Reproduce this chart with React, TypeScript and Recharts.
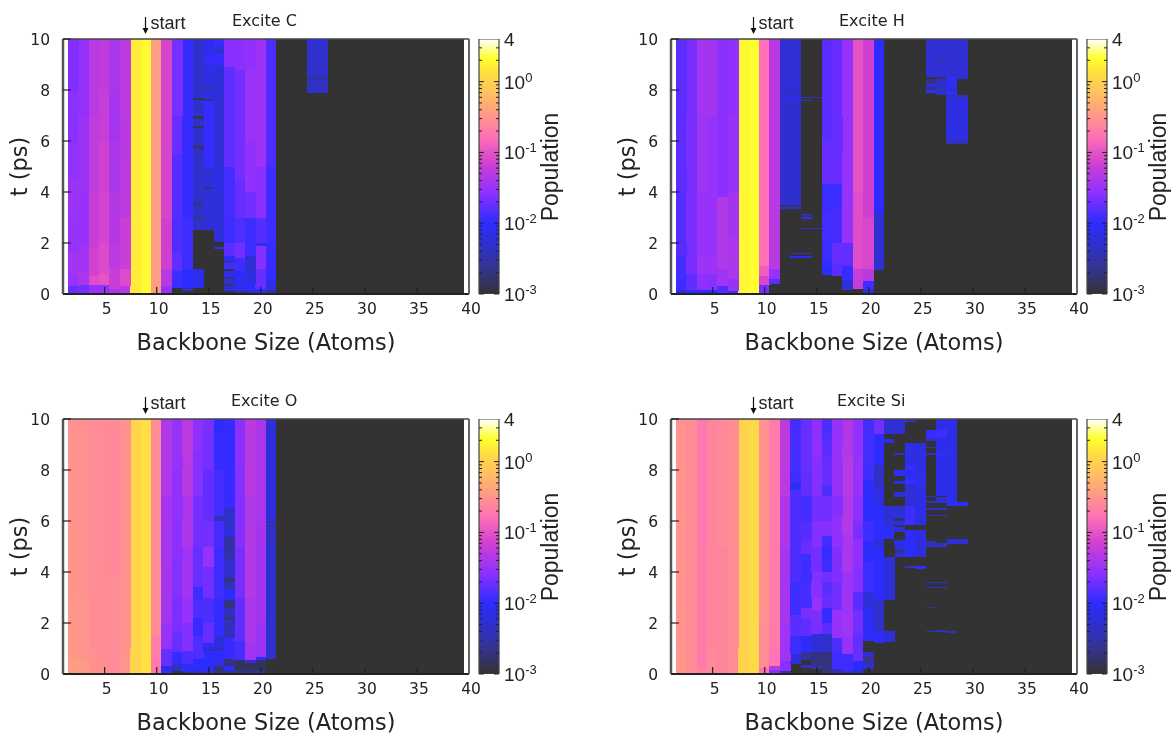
import { Bar, Cell, ComposedChart, XAxis, YAxis } from "recharts";

type Segment = [number, number]; // [upper t in ps, population]
type Column = [number, Segment[]];

const atoms = [2, 3, 4, 5, 6, 7, 8, 9, 10, 11, 12, 13, 14, 15, 16, 17, 18, 19, 20, 21, 22, 23, 24, 25, 26, 27, 28, 29, 30, 31, 32, 33, 34, 35, 36, 37, 38, 39];
const xTicks = [5, 10, 15, 20, 25, 30, 35, 40];
const yTicks = [0, 2, 4, 6, 8, 10];
const floorPop = 0.001;

const exciteC: Column[] = [
  [2, [[0.3, 0.018], [0.8, 0.03], [1.6, 0.036], [3, 0.03], [4.5, 0.032], [6, 0.028], [8, 0.026], [10, 0.023]]],
  [3, [[0.35, 0.02], [0.9, 0.04], [2, 0.034], [4, 0.03], [7, 0.032], [10, 0.029]]],
  [4, [[0.35, 0.03], [0.7, 0.09], [1.8, 0.072], [4, 0.062], [7, 0.055], [10, 0.05]]],
  [5, [[0.35, 0.03], [0.8, 0.1], [2, 0.085], [4, 0.075], [6, 0.07], [8, 0.06], [10, 0.055]]],
  [6, [[0.2, 0.04], [1, 0.062], [2, 0.052], [4, 0.046], [6, 0.04], [8, 0.037], [10, 0.04]]],
  [7, [[0.3, 0.05], [1, 0.085], [3, 0.062], [5, 0.052], [7, 0.05], [10, 0.052]]],
  [8, [[10, 1.6]]],
  [9, [[10, 2.0]]],
  [10, [[10, 0.36]]],
  [11, [[0.3, 0.03], [1, 0.05], [3, 0.07], [10, 0.078]]],
  [12, [[0.25, 0.001], [0.9, 0.012], [1.6, 0.017], [3, 0.014], [5.5, 0.015], [7, 0.018], [10, 0.021]]],
  [13, [[0.1, 0.001], [0.18, 0.006], [0.25, 0.002], [1, 0.01], [3, 0.012], [10, 0.011]]],
  [14, [[0.25, 0.001], [1, 0.008], [2.5, 0.001], [2.9, 0.005], [3.1, 0.003], [3.4, 0.005], [3.6, 0.003], [3.9, 0.005], [5.7, 0.005], [5.85, 0.002], [6.5, 0.005], [6.6, 0.0015], [6.85, 0.005], [7, 0.0015], [7.6, 0.005], [7.7, 0.0015], [10, 0.005]]],
  [15, [[2.5, 0.001], [4.1, 0.006], [4.2, 0.002], [5, 0.006], [7.55, 0.011], [7.65, 0.002], [8, 0.007], [8.2, 0.004], [9, 0.007], [9.3, 0.011], [10, 0.008]]],
  [16, [[1.78, 0.001], [1.83, 0.01], [2.05, 0.001], [4, 0.006], [5, 0.007], [9, 0.006], [9.4, 0.011], [9.7, 0.006], [10, 0.011]]],
  [17, [[0.1, 0.001], [0.3, 0.006], [0.38, 0.002], [0.6, 0.005], [0.68, 0.002], [0.9, 0.007], [0.98, 0.0015], [1.2, 0.012], [1.35, 0.004], [1.5, 0.009], [2, 0.016], [3, 0.012], [5, 0.013], [8.9, 0.017], [10, 0.025]]],
  [18, [[0.12, 0.002], [0.5, 0.008], [0.9, 0.01], [1.4, 0.012], [2, 0.02], [3, 0.014], [4.5, 0.018], [8.8, 0.02], [10, 0.026]]],
  [19, [[0.1, 0.003], [0.4, 0.01], [0.9, 0.007], [1.5, 0.006], [2, 0.012], [3, 0.012], [4, 0.02], [6, 0.028], [8.8, 0.032], [10, 0.028]]],
  [20, [[0.2, 0.008], [1, 0.018], [1.9, 0.024], [2, 0.007], [3, 0.015], [5, 0.026], [10, 0.033]]],
  [21, [[0.12, 0.002], [0.5, 0.007], [2, 0.011], [5, 0.012], [10, 0.014]]],
  [25, [[7.9, floorPop], [8.15, 0.005], [8.25, 0.003], [8.4, 0.005], [8.5, 0.003], [9.85, 0.005], [10, 0.008]]],
  [26, [[7.9, floorPop], [8.15, 0.005], [8.25, 0.003], [8.4, 0.005], [8.5, 0.003], [9.85, 0.005], [10, 0.008]]],
];

const exciteH: Column[] = [
  [2, [[0.15, 0.008], [0.6, 0.012], [1.5, 0.013], [4, 0.015], [7, 0.016], [10, 0.016]]],
  [3, [[0.15, 0.009], [0.8, 0.017], [2, 0.021], [5, 0.022], [10, 0.022]]],
  [4, [[0.15, 0.01], [0.8, 0.027], [1.5, 0.033], [4, 0.03], [7, 0.034], [10, 0.036]]],
  [5, [[0.15, 0.01], [0.8, 0.025], [1.4, 0.033], [4, 0.03], [7, 0.03], [10, 0.036]]],
  [6, [[0.05, 0.001], [0.3, 0.014], [1, 0.034], [2.2, 0.043], [3.8, 0.045], [6, 0.026], [10, 0.026]]],
  [7, [[0.1, 0.012], [0.6, 0.03], [2.2, 0.04], [4, 0.036], [7, 0.03], [10, 0.028]]],
  [8, [[10, 1.9]]],
  [9, [[10, 2.1]]],
  [10, [[0.35, 0.02], [0.7, 0.08], [1.1, 0.12], [10, 0.165]]],
  [11, [[0.4, 0.001], [0.6, 0.016], [1, 0.03], [3, 0.05], [10, 0.05]]],
  [12, [[3.35, 0.001], [3.42, 0.005], [3.48, 0.0015], [3.55, 0.005], [7.6, 0.0052], [7.72, 0.008], [8.2, 0.0052], [8.27, 0.008], [10, 0.0055]]],
  [13, [[1.4, 0.001], [1.48, 0.008], [1.55, 0.001], [1.62, 0.007], [2.95, 0.001], [3.35, 0.001], [3.42, 0.005], [3.48, 0.0015], [3.55, 0.005], [7.6, 0.0052], [7.72, 0.008], [8.2, 0.0052], [8.27, 0.008], [10, 0.0055]]],
  [14, [[1.4, 0.001], [1.48, 0.007], [1.55, 0.001], [1.62, 0.006], [2.55, 0.001], [2.6, 0.006], [2.95, 0.001], [3.02, 0.007], [3.08, 0.0015], [3.15, 0.007], [7.55, 0.001], [7.62, 0.005], [7.68, 0.001], [7.74, 0.006], [10, 0.001]]],
  [15, [[2.55, 0.001], [2.6, 0.006], [7.68, 0.001], [7.74, 0.006], [10, 0.001]]],
  [16, [[0.75, 0.001], [1.1, 0.01], [1.4, 0.011], [2.2, 0.012], [3.2, 0.013], [4.3, 0.012], [6, 0.018], [10, 0.016]]],
  [17, [[0.7, 0.001], [1.2, 0.016], [2, 0.018], [3.4, 0.013], [4.3, 0.012], [5.5, 0.018], [10, 0.018]]],
  [18, [[0.15, 0.001], [0.55, 0.006], [1.1, 0.011], [2, 0.017], [4, 0.03], [7, 0.03], [10, 0.03]]],
  [19, [[0.18, 0.001], [1, 0.06], [2, 0.09], [4, 0.09], [7, 0.1], [10, 0.1]]],
  [20, [[0.18, 0.005], [0.5, 0.012], [1, 0.05], [3, 0.08], [7, 0.07], [10, 0.07]]],
  [21, [[0.95, 0.001], [3.2, 0.0055], [10, 0.01]]],
  [26, [[7.9, floorPop], [8, 0.009], [8.1, 0.002], [8.25, 0.009], [8.45, 0.002], [8.52, 0.001], [10, 0.0055]]],
  [27, [[7.8, floorPop], [8.45, 0.0045], [8.52, 0.0015], [9.05, 0.0055], [9.15, 0.003], [10, 0.0055]]],
  [28, [[5.9, floorPop], [6.05, 0.004], [6.15, 0.007], [7.7, 0.007], [7.8, 0.004], [7.95, 0.009], [8.05, 0.006], [8.15, 0.009], [8.25, 0.006], [8.5, 0.009], [10, 0.0055]]],
  [29, [[5.9, floorPop], [6.05, 0.004], [6.15, 0.007], [7.7, 0.007], [7.8, 0.004], [8.45, floorPop], [10, 0.0055]]],
];

const exciteO: Column[] = [
  [2, [[0.6, 0.36], [3, 0.33], [6, 0.31], [10, 0.3]]],
  [3, [[0.6, 0.34], [3, 0.31], [6, 0.3], [10, 0.29]]],
  [4, [[1, 0.29], [4, 0.27], [10, 0.27]]],
  [5, [[1, 0.28], [4, 0.27], [10, 0.265]]],
  [6, [[1, 0.26], [4, 0.26], [10, 0.25]]],
  [7, [[1, 0.31], [4, 0.3], [10, 0.3]]],
  [8, [[10, 1.05]]],
  [9, [[10, 1.3]]],
  [10, [[0.6, 0.19], [1.5, 0.22], [10, 0.27]]],
  [11, [[0.1, 0.012], [0.3, 0.008], [1, 0.018], [2, 0.03], [4, 0.036], [7, 0.037], [10, 0.043]]],
  [12, [[0.12, 0.001], [0.45, 0.005], [0.85, 0.011], [1.6, 0.018], [3, 0.022], [4.5, 0.024], [6, 0.026], [8, 0.028], [10, 0.03]]],
  [13, [[0.08, 0.002], [0.4, 0.009], [0.9, 0.014], [2, 0.024], [3, 0.03], [5, 0.035], [7, 0.042], [8.5, 0.05], [10, 0.052]]],
  [14, [[0.1, 0.003], [0.6, 0.01], [1.5, 0.014], [2.2, 0.011], [2.9, 0.014], [3.4, 0.012], [5, 0.018], [7, 0.02], [8.7, 0.024], [10, 0.026]]],
  [15, [[0.15, 0.006], [0.9, 0.01], [1.0, 0.003], [1.2, 0.01], [2, 0.018], [3, 0.014], [4.2, 0.02], [5, 0.03], [6, 0.02], [8, 0.017], [9.5, 0.02], [10, 0.022]]],
  [16, [[0.3, 0.002], [0.6, 0.007], [0.95, 0.01], [1.0, 0.002], [1.5, 0.006], [2.2, 0.011], [3, 0.011], [5, 0.012], [6, 0.013], [6.05, 0.004], [6.2, 0.004], [8, 0.013], [9.5, 0.011], [10, 0.01]]],
  [17, [[0.1, 0.002], [0.3, 0.01], [0.6, 0.002], [1.4, 0.011], [2.1, 0.004], [2.25, 0.002], [2.6, 0.004], [2.9, 0.002], [3.3, 0.01], [3.6, 0.004], [3.75, 0.002], [4.5, 0.005], [5.4, 0.003], [5.6, 0.008], [6.5, 0.005], [10, 0.011]]],
  [18, [[0.15, 0.002], [0.55, 0.0015], [1.3, 0.013], [3, 0.017], [5, 0.021], [8, 0.024], [10, 0.026]]],
  [19, [[0.1, 0.002], [0.45, 0.0015], [0.55, 0.005], [1.2, 0.035], [3, 0.04], [7, 0.045], [10, 0.05]]],
  [20, [[0.1, 0.003], [0.55, 0.0015], [0.65, 0.01], [2, 0.032], [6, 0.036], [10, 0.04]]],
  [21, [[0.6, 0.001], [5.6, 0.005], [5.65, 0.002], [5.75, 0.005], [5.8, 0.002], [5.95, 0.005], [6, 0.002], [10, 0.006]]],
];

const exciteSi: Column[] = [
  [2, [[1, 0.32], [5, 0.3], [10, 0.3]]],
  [3, [[1, 0.27], [5, 0.27], [10, 0.27]]],
  [4, [[0.25, 0.24], [5, 0.2], [10, 0.19]]],
  [5, [[1, 0.25], [5, 0.24], [10, 0.24]]],
  [6, [[1, 0.24], [5, 0.24], [10, 0.25]]],
  [7, [[1, 0.27], [5, 0.27], [10, 0.28]]],
  [8, [[10, 1.0]]],
  [9, [[10, 1.15]]],
  [10, [[0.25, 0.17], [2, 0.27], [10, 0.3]]],
  [11, [[0.15, 0.024], [0.3, 0.05], [1, 0.17], [10, 0.2]]],
  [12, [[0.1, 0.003], [0.5, 0.025], [2, 0.034], [5, 0.037], [7, 0.042], [8.4, 0.05], [10, 0.052]]],
  [13, [[0.4, 0.001], [0.8, 0.006], [1.5, 0.012], [2.3, 0.016], [3.6, 0.012], [5, 0.014], [7.2, 0.014], [7.5, 0.009], [8, 0.012], [10, 0.013]]],
  [14, [[0.25, 0.001], [0.35, 0.005], [0.55, 0.001], [0.85, 0.0025], [1.5, 0.009], [2.2, 0.017], [2.6, 0.022], [3.6, 0.013], [4.7, 0.012], [5.2, 0.018], [6, 0.015], [7, 0.013], [8, 0.017], [10, 0.018]]],
  [15, [[0.2, 0.001], [0.3, 0.004], [0.6, 0.002], [0.85, 0.002], [1.55, 0.006], [2.5, 0.022], [3, 0.03], [4, 0.024], [5, 0.02], [6, 0.024], [7, 0.02], [8.5, 0.024], [10, 0.027]]],
  [16, [[0.1, 0.002], [0.85, 0.002], [1.55, 0.005], [2, 0.016], [2.6, 0.011], [3.1, 0.018], [3.6, 0.016], [4, 0.02], [4.5, 0.012], [5, 0.011], [5.4, 0.013], [6, 0.024], [7, 0.02], [7.4, 0.014], [8.5, 0.018], [9.2, 0.016], [10, 0.014]]],
  [17, [[0.2, 0.004], [0.9, 0.012], [1.4, 0.014], [2.5, 0.03], [3.6, 0.02], [5, 0.023], [6.2, 0.028], [7, 0.024], [9, 0.03], [10, 0.03]]],
  [18, [[0.1, 0.006], [0.8, 0.012], [1.5, 0.03], [2.5, 0.034], [4, 0.033], [5.5, 0.04], [7, 0.045], [8.5, 0.048], [10, 0.044]]],
  [19, [[0.15, 0.006], [0.5, 0.01], [1, 0.018], [1.6, 0.017], [2.5, 0.02], [3.2, 0.016], [4.2, 0.024], [5.3, 0.027], [6, 0.022], [7, 0.026], [8.5, 0.03], [10, 0.028]]],
  [20, [[0.2, 0.001], [0.45, 0.005], [0.7, 0.0025], [0.85, 0.006], [1.3, 0.001], [1.55, 0.009], [2.6, 0.009], [3.2, 0.006], [4.4, 0.012], [5.2, 0.01], [6, 0.012], [7.6, 0.01], [8.3, 0.012], [10, 0.013]]],
  [21, [[1.2, 0.001], [1.65, 0.009], [2.9, 0.005], [4.9, 0.01], [5.3, 0.006], [6.6, 0.01], [7.3, 0.007], [7.6, 0.0045], [8.2, 0.0045], [9.4, 0.01], [10, 0.02]]],
  [22, [[1.25, 0.001], [1.7, 0.006], [2.9, 0.001], [4.6, 0.006], [5.3, 0.001], [5.75, 0.009], [6.6, 0.0055], [9.05, 0.001], [9.2, 0.008], [9.4, 0.001], [10, 0.0055]]],
  [23, [[4.6, 0.001], [4.75, 0.007], [4.85, 0.002], [5.05, 0.006], [5.2, 0.008], [5.3, 0.002], [5.55, 0.001], [5.75, 0.006], [5.85, 0.0015], [6, 0.007], [6.1, 0.0015], [6.3, 0.007], [6.6, 0.005], [6.95, 0.001], [7.15, 0.007], [7.45, 0.001], [7.55, 0.008], [7.75, 0.001], [8, 0.009], [8.25, 0.001], [8.6, 0.001], [8.68, 0.005], [9.4, 0.001], [10, 0.0055]]],
  [24, [[4.16, 0.001], [4.22, 0.005], [4.6, 0.001], [5.65, 0.0095], [5.83, 0.001], [6.6, 0.012], [7.45, 0.006], [7.7, 0.011], [8, 0.008], [8.2, 0.011], [9.04, 0.007], [9.9, 0.001], [10, 0.004]]],
  [25, [[4.12, 0.001], [4.22, 0.011], [4.6, 0.001], [5.65, 0.0065], [5.83, 0.001], [7.55, 0.007], [7.65, 0.009], [9.04, 0.007], [10, 0.001]]],
  [26, [[1.65, 0.001], [1.7, 0.004], [2.58, 0.001], [2.62, 0.002], [3.38, 0.001], [3.43, 0.005], [3.55, 0.001], [3.6, 0.005], [5.0, 0.001], [5.15, 0.005], [5.2, 0.003], [6.2, 0.001], [6.25, 0.005], [6.45, 0.001], [6.5, 0.005], [6.72, 0.001], [6.78, 0.005], [6.95, 0.001], [7.0, 0.005], [8.6, 0.001], [8.68, 0.005], [8.85, 0.001], [8.92, 0.005], [9.15, 0.001], [9.25, 0.006], [9.55, 0.011], [10, 0.001]]],
  [27, [[1.65, 0.001], [1.72, 0.005], [3.38, 0.001], [3.43, 0.005], [3.55, 0.001], [3.6, 0.005], [5.0, 0.001], [5.15, 0.005], [6.2, 0.001], [6.25, 0.005], [6.45, 0.001], [6.5, 0.005], [6.72, 0.001], [6.95, 0.006], [7, 0.001], [8.6, 0.0075], [8.68, 0.011], [9.25, 0.0075], [9.55, 0.012], [10, 0.0075]]],
  [28, [[1.62, 0.001], [1.68, 0.004], [5.08, 0.001], [5.3, 0.006], [6.6, 0.001], [6.75, 0.009], [10, 0.0075]]],
  [29, [[5.08, 0.001], [5.3, 0.006], [6.6, 0.001], [6.75, 0.009], [10, 0.001]]],
];

const colorStops: [number, string][] = [
  [0.001, "#333333"],
  [0.0025, "#333399"],
  [0.01, "#2c2cff"],
  [0.027, "#9030ff"],
  [0.07, "#d040d0"],
  [0.165, "#ff70b8"],
  [0.29, "#ff9090"],
  [0.68, "#ffc060"],
  [1.32, "#ffe040"],
  [2.14, "#ffff30"],
  [4, "#ffffff"],
];
const barTicks = [0.001, 0.002, 0.003, 0.004, 0.005, 0.006, 0.007, 0.008, 0.009, 0.01, 0.02, 0.03, 0.04, 0.05, 0.06, 0.07, 0.08, 0.09, 0.1, 0.2, 0.3, 0.4, 0.5, 0.6, 0.7, 0.8, 0.9, 1, 2, 3, 4];
const barLabels: Record<string, string> = { "0.001": "-3", "0.01": "-2", "0.1": "-1", "1": "0" };
const barData = [{ name: "scale", top: 4 }];

const panels = [
  { title: "Excite C", columns: exciteC, left: 0, top: 0, titleX: 232 },
  { title: "Excite H", columns: exciteH, left: 608, top: 0, titleX: 231 },
  { title: "Excite O", columns: exciteO, left: 0, top: 380, titleX: 231 },
  { title: "Excite Si", columns: exciteSi, left: 608, top: 380, titleX: 229 },
];

const dejavu = "DejaVu Sans";
const liberation = "Liberation Sans";
const ink = "#222";

function hexRgb(hex: string) {
  return [1, 3, 5].map((i) => parseInt(hex.slice(i, i + 2), 16));
}

// palette lookup is linear in log(population), like the gnuplot colorbox
function popColor(pop: number) {
  const v = Math.log10(Math.max(pop, 0.001));
  for (let i = 1; i < colorStops.length; i++) {
    const hi = Math.log10(colorStops[i][0]);
    if (v <= hi) {
      const lo = Math.log10(colorStops[i - 1][0]);
      const f = (v - lo) / (hi - lo);
      const a = hexRgb(colorStops[i - 1][1]);
      const b = hexRgb(colorStops[i][1]);
      const c = a.map((p, k) => Math.round(p + (b[k] - p) * f));
      return `rgb(${c[0]},${c[1]},${c[2]})`;
    }
  }
  return "#ffffff";
}

function buildRows(columns: Column[]) {
  return atoms.map((atom) => {
    const found = columns.find((c) => c[0] === atom);
    const segs: Segment[] = found ? found[1] : [[10, floorPop]];
    const row: any = { atom };
    let prev = 0;
    segs.forEach((s, k) => {
      row[`h${k}`] = s[0] - prev;
      row[`p${k}`] = s[1];
      prev = s[0];
    });
    return row;
  });
}

const plotMargin = { top: 39, right: 11, left: 63, bottom: 66 };

// slightly overlap neighbours, crisp bars otherwise leave white hairlines between columns
function HeatCell({ x, y, width, height, fill }: any) {
  if (!height) return null;
  return <rect x={x - 0.4} y={y} width={width + 0.8} height={height} fill={fill} shapeRendering="crispEdges" />;
}

function Heatmap({ columns }: { columns: Column[] }) {
  const rows = buildRows(columns);
  const depth = Math.max(...columns.map((c) => c[1].length));
  const keys = Array.from({ length: depth }, (_, k) => k);
  return (
    <ComposedChart width={480} height={360} data={rows} margin={plotMargin} barCategoryGap={0} style={{ position: "absolute", left: 0, top: 0 }}>
      <XAxis type="number" dataKey="atom" domain={[1, 40]} hide allowDataOverflow />
      <YAxis type="number" domain={[0, 10]} hide allowDataOverflow />
      {keys.map((k) => (
        <Bar key={k} dataKey={`h${k}`} stackId="t" isAnimationActive={false} shape={<HeatCell />}>
          {rows.map((r) => (
            <Cell key={r.atom} fill={r[`p${k}`] ? popColor(r[`p${k}`]) : "none"} />
          ))}
        </Bar>
      ))}
    </ComposedChart>
  );
}

// axes sit in their own chart on top, the ticks have to show over the heat map
function Frame({ title, titleX }: { title: string; titleX: number }) {
  return (
    <ComposedChart width={480} height={360} data={[{ atom: 1 }, { atom: 40 }]} margin={{ top: 38, right: 10, left: 0, bottom: 0 }} style={{ position: "absolute", left: 0, top: 0 }}>
      <XAxis
        type="number"
        dataKey="atom"
        domain={[1, 40]}
        ticks={xTicks}
        height={66}
        tickSize={-7}
        tickMargin={16}
        allowDataOverflow
        axisLine={{ stroke: ink, strokeWidth: 2 }}
        tickLine={{ stroke: ink, strokeWidth: 1.2 }}
        tick={{ fontFamily: dejavu, fontSize: 15.5, fill: "#222", dx: 2 }}
        label={{ value: "Backbone Size (Atoms)", position: "insideBottom", offset: 10, fontFamily: dejavu, fontSize: 22.4, fill: "#222" }}
      />
      <XAxis xAxisId="top" type="number" dataKey="atom" domain={[1, 40]} ticks={xTicks} orientation="top" height={1} tickSize={-7} tick={false} allowDataOverflow axisLine={{ stroke: "#444", strokeWidth: 1.5 }} tickLine={{ stroke: ink, strokeWidth: 1.2 }} />
      <YAxis
        type="number"
        domain={[0, 10]}
        ticks={yTicks}
        width={63}
        tickSize={-8}
        tickMargin={21}
        allowDataOverflow
        axisLine={{ stroke: "#555", strokeWidth: 2.5 }}
        tickLine={{ stroke: ink, strokeWidth: 1.2 }}
        tick={{ fontFamily: dejavu, fontSize: 15.5, fill: "#222" }}
        label={{ value: "t (ps)", angle: -90, position: "insideLeft", offset: 19, fontFamily: dejavu, fontSize: 22.4, fill: "#222", style: { textAnchor: "middle" } }}
      />
      <YAxis yAxisId="right" type="number" domain={[0, 10]} ticks={yTicks} orientation="right" width={1} tickSize={-7} tick={false} allowDataOverflow axisLine={{ stroke: "#666", strokeWidth: 2 }} tickLine={{ stroke: ink, strokeWidth: 1.2 }} />
      <text x={titleX} y={26} fontFamily={dejavu} fontSize={16} fill="#222">{title}</text>
      <path d="M145.5 17 V31" stroke="#111" strokeWidth={1.2} fill="none" />
      <path d="M142.5 28 L145.5 34 L148.5 28 Z" fill="#111" />
      <text x={150.5} y={29} fontFamily={liberation} fontSize={18} fill="#222">start</text>
    </ComposedChart>
  );
}

function ScaleTick({ x, y, payload }: any) {
  const label = barLabels[String(payload.value)];
  const isFour = payload.value === 4;
  const major = label !== undefined;
  const len = major ? 5 : 3;
  return (
    <g>
      {!isFour && <line x1={x - 20} x2={x - 20 + len} y1={y} y2={y} stroke={ink} strokeWidth={1} />}
      {!isFour && <line x1={x - len} x2={x} y1={y} y2={y} stroke={ink} strokeWidth={1} />}
      {isFour && <text x={x + 5} y={y + 7} fontFamily={liberation} fontSize={19} fill={ink}>4</text>}
      {major && (
        <text x={x + 5} y={y + 7} fontFamily={liberation} fontSize={19} fill={ink}>
          10<tspan dy={-7} fontSize={13}>{label}</tspan>
        </text>
      )}
    </g>
  );
}

function Colorbox() {
  return (
    <ComposedChart
      width={110}
      height={360}
      data={barData}
      margin={{ top: 39, right: 80, left: 9, bottom: 66 }}
      barCategoryGap={0}
      style={{ position: "absolute", left: 470, top: 0 }}
    >
      <defs>
        <linearGradient id="popScale" x1="0" y1="1" x2="0" y2="0">
          {colorStops.map((s) => (
            <stop key={s[0]} offset={(Math.log10(s[0]) + 3) / (Math.log10(4) + 3)} stopColor={s[1]} />
          ))}
        </linearGradient>
      </defs>
      <XAxis dataKey="name" hide />
      <Bar dataKey="top" fill="url(#popScale)" stroke="#444" strokeWidth={1.2} isAnimationActive={false} />
      <YAxis
        orientation="right"
        scale="log"
        domain={[0.001, 4]}
        ticks={barTicks}
        interval={0}
        width={1}
        tickSize={0}
        tickMargin={0}
        allowDataOverflow
        axisLine={false}
        tickLine={false}
        tick={<ScaleTick />}
      />
      <text transform="translate(88,167) rotate(-90)" textAnchor="middle" fontFamily={liberation} fontSize={23} fill={ink}>Population</text>
    </ComposedChart>
  );
}

export default function App() {
  return (
    <div style={{ position: "absolute", left: 0, top: 0, width: 1172, height: 734, background: "#fff", overflow: "hidden", filter: "blur(0.45px)" }}>
      {panels.map((p) => (
        <div key={p.title} style={{ position: "absolute", left: p.left, top: p.top, width: 580, height: 360 }}>
          <Heatmap columns={p.columns} />
          <Frame title={p.title} titleX={p.titleX} />
          <Colorbox />
        </div>
      ))}
    </div>
  );
}
